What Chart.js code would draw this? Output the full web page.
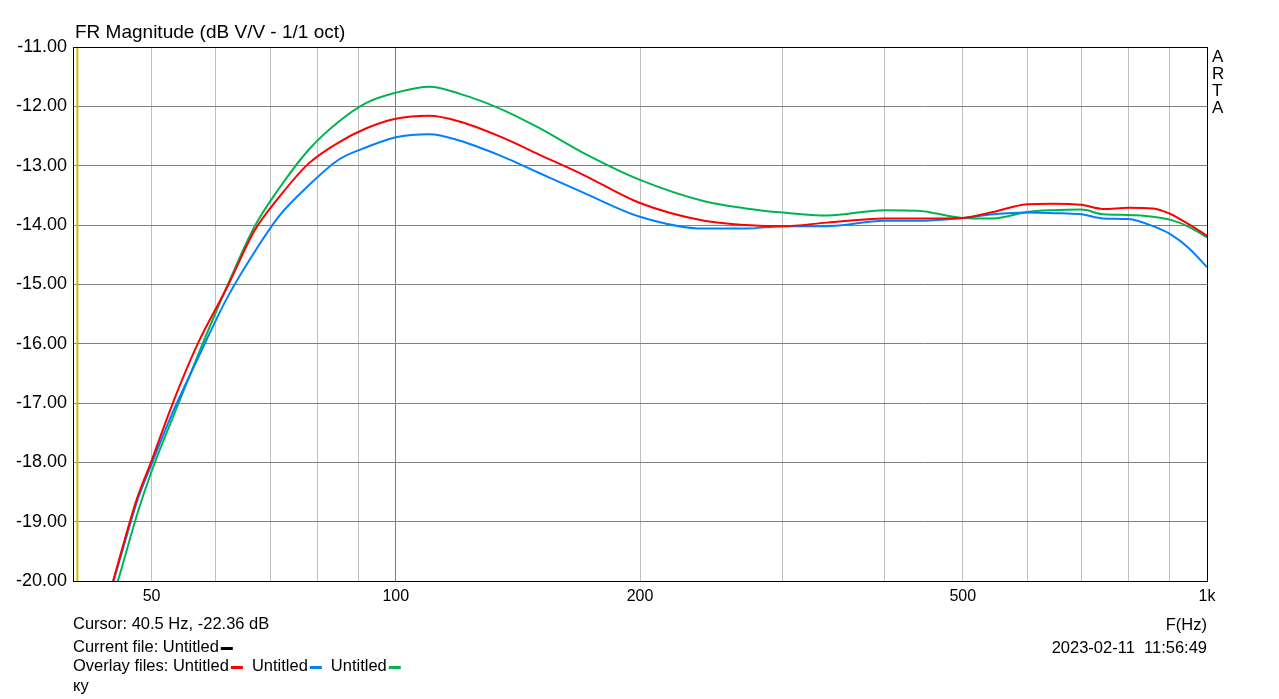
<!DOCTYPE html>
<html>
<head>
<meta charset="utf-8">
<title>FR Magnitude</title>
<script src="https://cdn.jsdelivr.net/npm/chart.js@4/dist/chart.umd.min.js"></script>
<style>
  html, body { margin: 0; padding: 0; background: #fff; }
  #wrap { width: 1279px; height: 699px; }
</style>
</head>
<body>
<div id="wrap"><canvas id="myGraph" width="1279" height="699"></canvas></div>
<script>
// frequency points (Hz) and magnitudes (dB)
var freqs = [44, 46, 48, 50, 53, 57, 62, 67, 72, 78, 85, 92, 100, 110, 120, 135, 150, 170, 200, 240, 270, 300, 340, 400, 440, 500, 545, 600, 646, 700, 745, 800, 858, 900, 950, 1000];

var redDb = [-20.4, -19.45, -18.6, -17.97, -17.03, -16.0, -15.04, -14.09, -13.51, -12.97, -12.61, -12.37, -12.21, -12.16, -12.26, -12.52, -12.81, -13.15, -13.63, -13.93, -14.0, -14.02, -13.96, -13.89, -13.89, -13.88, -13.78, -13.65, -13.64, -13.66, -13.73, -13.71, -13.72, -13.81, -13.99, -14.18];
var blueDb = [-20.4, -19.5, -18.65, -18.03, -17.18, -16.25, -15.22, -14.45, -13.83, -13.34, -12.9, -12.69, -12.52, -12.47, -12.58, -12.84, -13.12, -13.45, -13.86, -14.06, -14.06, -14.02, -14.02, -13.93, -13.93, -13.88, -13.82, -13.79, -13.8, -13.82, -13.89, -13.9, -14.02, -14.15, -14.39, -14.71];
var greenDb = [-20.65, -19.75, -18.87, -18.15, -17.27, -16.2, -15.02, -14.02, -13.36, -12.74, -12.26, -11.94, -11.77, -11.67, -11.79, -12.05, -12.36, -12.78, -13.24, -13.6, -13.72, -13.79, -13.84, -13.75, -13.76, -13.88, -13.89, -13.78, -13.75, -13.74, -13.82, -13.83, -13.86, -13.91, -14.03, -14.21];

var cursorHz = 40.5;

var gridFreqs = [50, 60, 70, 80, 90, 100, 200, 300, 400, 500, 600, 700, 800, 900, 1000];
var freqLabels = { 50: "50", 100: "100", 200: "200", 500: "500", 1000: "1k" };

var FONT = "'Liberation Sans', Arial, sans-serif";

document.addEventListener("DOMContentLoaded", function(){
  makeChart();
});

function pairs(ys){
  return freqs.map(function(f, i){ return { x: f, y: ys[i] }; });
}

function makeChart(){
  let target = document.getElementById("myGraph");

  let frame = {
    id: "frame",
    afterDraw: function(chart){
      let ctx = chart.ctx;
      let a = chart.chartArea;
      ctx.save();
      ctx.strokeStyle = "#000";
      ctx.lineWidth = 1;
      ctx.strokeRect(a.left + 0.5, a.top + 0.5, a.right - a.left, a.bottom - a.top);

      ctx.fillStyle = "#000";
      ctx.textBaseline = "middle";
      ctx.textAlign = "left";
      ctx.font = "19px " + FONT;
      ctx.fillText("FR Magnitude (dB V/V - 1/1 oct)", 75, 33);

      ctx.font = "17px " + FONT;
      ["A", "R", "T", "A"].forEach(function(c, i){
        ctx.fillText(c, 1212, 57 + i * 17);
      });

      ctx.font = "16.5px " + FONT;
      ctx.textAlign = "right";
      ctx.fillText("F(Hz)", 1207, 625);
      ctx.fillText("2023-02-11  11:56:49", 1207, 648);

      ctx.textAlign = "left";
      ctx.fillText("Cursor: 40.5 Hz, -22.36 dB", 73, 624);

      let x = 73;
      let t = "Current file: Untitled";
      ctx.fillText(t, x, 647);
      x += ctx.measureText(t).width;
      ctx.fillStyle = "#000";
      ctx.fillRect(x + 2, 647, 12, 3);

      x = 73;
      t = "Overlay files: Untitled";
      ctx.fillText(t, x, 666);
      x += ctx.measureText(t).width;
      let cols = ["#ff0000", "#0080ff", "#00b450"];
      cols.forEach(function(c, i){
        ctx.fillStyle = c;
        ctx.fillRect(x + 2, 666, 12, 3);
        x += 23;
        if (i < 2) {
          ctx.fillStyle = "#000";
          ctx.fillText("Untitled", x, 666);
          x += ctx.measureText("Untitled").width;
        }
      });
      ctx.fillStyle = "#000";
      ctx.fillText("ку", 73, 686);
      ctx.restore();
    }
  };

  new Chart(target, {
    type: "line",
    data: {
      datasets: [
        { data: [{ x: cursorHz, y: -11 }, { x: cursorHz, y: -20 }], borderColor: "#c8c000", borderWidth: 2, pointRadius: 0 },
        { data: pairs(redDb), borderColor: "#ff0000", borderWidth: 2, pointRadius: 0, cubicInterpolationMode: "monotone" },
        { data: pairs(blueDb), borderColor: "#0080ff", borderWidth: 2, pointRadius: 0, cubicInterpolationMode: "monotone" },
        { data: pairs(greenDb), borderColor: "#00b450", borderWidth: 2, pointRadius: 0, cubicInterpolationMode: "monotone" }
      ]
    },
    options: {
      responsive: false,
      animation: false,
      layout: { padding: { top: 47, right: 72, left: 0, bottom: 0 } },
      plugins: {
        legend: { display: false },
        tooltip: { enabled: false }
      },
      scales: {
        x: {
          type: "logarithmic",
          min: 40,
          max: 1000,
          afterBuildTicks: function(axis){
            axis.ticks = gridFreqs.map(function(v){ return { value: v }; });
          },
          afterFit: function(axis){ axis.height = 118; },
          ticks: {
            autoSkip: false,
            maxRotation: 0,
            color: "#000",
            padding: 6,
            font: { family: FONT, size: 16 },
            callback: function(v){ return freqLabels[v] || ""; }
          },
          grid: {
            drawTicks: false,
            color: function(c){ return c.tick && c.tick.value === 100 ? "#808080" : "#c0c0c0"; }
          },
          border: { display: false }
        },
        y: {
          min: -20,
          max: -11,
          afterFit: function(axis){ axis.width = 73; },
          ticks: {
            stepSize: 1,
            color: "#000",
            padding: 6,
            font: { family: FONT, size: 18 },
            callback: function(v){ return v.toFixed(2); }
          },
          grid: { drawTicks: false, color: "#808080" },
          border: { display: false }
        }
      }
    },
    plugins: [frame]
  });
}
</script>
</body>
</html>
